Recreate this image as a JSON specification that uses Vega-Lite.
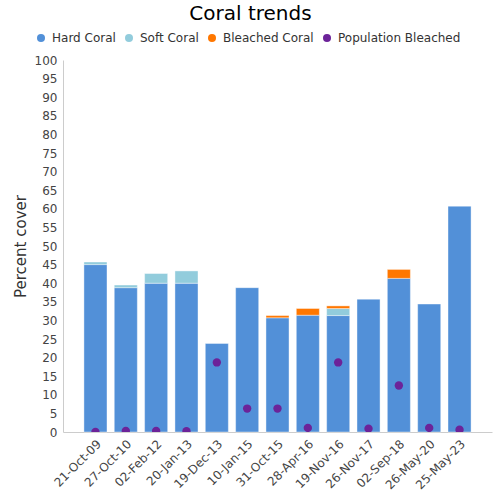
{
  "$schema": "https://vega.github.io/schema/vega-lite/v6.json",
  "width": 429,
  "height": 372,
  "autosize": {"type": "none"},
  "padding": {"left": 63, "top": 60, "right": 8, "bottom": 68},
  "title": {"text": "Coral trends", "font": "DejaVu Sans", "fontSize": 20, "fontWeight": "normal", "color": "#000000", "anchor": "middle", "dx": -27, "offset": 8},
  "config": {
    "view": {"stroke": null},
    "font": "DejaVu Sans",
    "axis": {"labelFont": "DejaVu Sans", "titleFont": "DejaVu Sans", "labelColor": "#444444", "titleColor": "#333333", "domainColor": "#cccccc", "ticks": false, "grid": false}
  },
  "data": {"values": [
    {"date": "21-Oct-09", "type": "Hard Coral", "value": 45.0},
    {"date": "21-Oct-09", "type": "Soft Coral", "value": 0.7},
    {"date": "21-Oct-09", "type": "Population Bleached", "value": 0.0},
    {"date": "27-Oct-10", "type": "Hard Coral", "value": 38.8},
    {"date": "27-Oct-10", "type": "Soft Coral", "value": 0.7},
    {"date": "27-Oct-10", "type": "Population Bleached", "value": 0.3},
    {"date": "02-Feb-12", "type": "Hard Coral", "value": 40.0},
    {"date": "02-Feb-12", "type": "Soft Coral", "value": 2.6},
    {"date": "02-Feb-12", "type": "Population Bleached", "value": 0.3},
    {"date": "20-Jan-13", "type": "Hard Coral", "value": 40.0},
    {"date": "20-Jan-13", "type": "Soft Coral", "value": 3.3},
    {"date": "20-Jan-13", "type": "Population Bleached", "value": 0.2},
    {"date": "19-Dec-13", "type": "Hard Coral", "value": 23.8},
    {"date": "19-Dec-13", "type": "Population Bleached", "value": 18.7},
    {"date": "10-Jan-15", "type": "Hard Coral", "value": 38.8},
    {"date": "10-Jan-15", "type": "Population Bleached", "value": 6.3},
    {"date": "31-Oct-15", "type": "Hard Coral", "value": 30.7},
    {"date": "31-Oct-15", "type": "Bleached Coral", "value": 0.6},
    {"date": "31-Oct-15", "type": "Population Bleached", "value": 6.3},
    {"date": "28-Apr-16", "type": "Hard Coral", "value": 31.4},
    {"date": "28-Apr-16", "type": "Bleached Coral", "value": 1.8},
    {"date": "28-Apr-16", "type": "Population Bleached", "value": 1.1},
    {"date": "19-Nov-16", "type": "Hard Coral", "value": 31.3},
    {"date": "19-Nov-16", "type": "Soft Coral", "value": 1.9},
    {"date": "19-Nov-16", "type": "Bleached Coral", "value": 0.7},
    {"date": "19-Nov-16", "type": "Population Bleached", "value": 18.7},
    {"date": "26-Nov-17", "type": "Hard Coral", "value": 35.7},
    {"date": "26-Nov-17", "type": "Population Bleached", "value": 0.9},
    {"date": "02-Sep-18", "type": "Hard Coral", "value": 41.3},
    {"date": "02-Sep-18", "type": "Bleached Coral", "value": 2.4},
    {"date": "02-Sep-18", "type": "Population Bleached", "value": 12.5},
    {"date": "26-May-20", "type": "Hard Coral", "value": 34.4},
    {"date": "26-May-20", "type": "Population Bleached", "value": 1.1},
    {"date": "25-May-23", "type": "Hard Coral", "value": 60.7},
    {"date": "25-May-23", "type": "Population Bleached", "value": 0.6}
  ]},
  "encoding": {
    "x": {"field": "date", "type": "nominal", "sort": null, "title": null,
      "scale": {"paddingInner": 0.24, "paddingOuter": 0.69},
      "axis": {"labelAngle": -45, "labelFontSize": 12, "labelPadding": 6}},
    "y": {"field": "value", "type": "quantitative", "title": "Percent cover",
      "scale": {"domain": [0, 100]},
      "axis": {"values": [0,5,10,15,20,25,30,35,40,45,50,55,60,65,70,75,80,85,90,95,100], "labelFontSize": 12, "titleFontSize": 15, "titleFontWeight": "normal", "titlePadding": 6, "labelPadding": 6}},
    "color": {"field": "type", "type": "nominal",
      "sort": ["Hard Coral", "Soft Coral", "Bleached Coral", "Population Bleached"],
      "scale": {"domain": ["Hard Coral", "Soft Coral", "Bleached Coral", "Population Bleached"], "range": ["#5290d8", "#92ccdc", "#ff7700", "#6c2399"]},
      "legend": {"title": null, "orient": "none", "legendX": -28, "legendY": -28, "direction": "horizontal", "symbolType": "circle", "symbolSize": 64, "symbolStrokeWidth": 0, "symbolOpacity": 1, "labelFont": "DejaVu Sans", "labelFontSize": 12, "labelColor": "#333333", "columnPadding": 7, "labelOffset": 5}}
  },
  "layer": [
    {
      "transform": [{"filter": "datum.type !== 'Population Bleached'"}],
      "mark": {"type": "bar", "stroke": "#ffffff", "strokeWidth": 1, "strokeOpacity": 0.4},
      "encoding": {
        "y": {"field": "value", "type": "quantitative", "stack": "zero"},
        "order": {"field": "value", "type": "quantitative", "sort": "descending"}
      }
    },
    {
      "transform": [{"filter": "datum.type === 'Population Bleached'"}],
      "mark": {"type": "point", "filled": true, "shape": "circle", "size": 70, "opacity": 1, "clip": true}
    }
  ]
}
